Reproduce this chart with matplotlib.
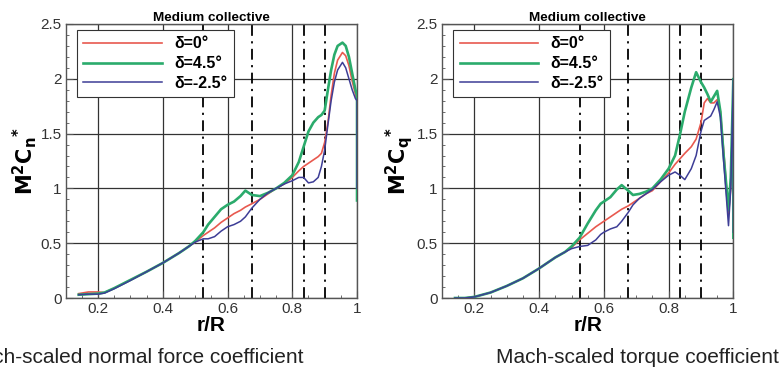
import matplotlib
matplotlib.use("Agg")
import matplotlib.pyplot as plt
from matplotlib.ticker import MultipleLocator

plt.rcParams['font.family'] = ['Liberation Sans', 'DejaVu Sans']

labels = ['δ=0°', 'δ=4.5°', 'δ=-2.5°']
colors = ['#e8594f', '#2bab6c', '#3d3d96']
widths = [1.2, 1.9, 1.1]
stations = [0.525, 0.675, 0.835, 0.9]

# normal force panel
r_cn = [0.14, 0.17, 0.2, 0.22, 0.25, 0.3, 0.35, 0.4, 0.45, 0.48, 0.5, 0.525, 0.54, 0.56,
        0.58, 0.6, 0.62, 0.64, 0.655, 0.675, 0.7, 0.725, 0.75, 0.775, 0.8, 0.82, 0.835,
        0.85, 0.865, 0.88, 0.89, 0.9, 0.91, 0.92, 0.93, 0.94, 0.955, 0.965, 0.975, 0.985,
        0.995, 1.0, 1.0]
cn_0 = [0.04, 0.055, 0.055, 0.05, 0.09, 0.165, 0.24, 0.32, 0.41, 0.47, 0.51, 0.57, 0.6,
        0.64, 0.69, 0.73, 0.77, 0.8, 0.83, 0.86, 0.9, 0.95, 1.0, 1.04, 1.1, 1.16, 1.2,
        1.23, 1.26, 1.29, 1.32, 1.42, 1.6, 1.85, 2.05, 2.17, 2.24, 2.21, 2.12, 1.98,
        1.86, 1.8, 1.2]
cn_45 = [0.03, 0.035, 0.04, 0.05, 0.09, 0.165, 0.24, 0.32, 0.41, 0.47, 0.52, 0.6, 0.67,
         0.74, 0.81, 0.85, 0.88, 0.93, 0.98, 0.94, 0.93, 0.96, 1.0, 1.05, 1.12, 1.24, 1.38,
         1.52, 1.6, 1.65, 1.67, 1.71, 1.9, 2.08, 2.22, 2.3, 2.33, 2.3, 2.2, 2.05, 1.9,
         1.85, 0.89]
cn_m25 = [0.03, 0.035, 0.035, 0.045, 0.085, 0.16, 0.24, 0.32, 0.41, 0.47, 0.51, 0.54, 0.54,
          0.56, 0.61, 0.65, 0.67, 0.7, 0.74, 0.82, 0.9, 0.96, 1.0, 1.04, 1.07, 1.1, 1.1,
          1.05, 1.06, 1.1, 1.2, 1.35, 1.58, 1.8, 1.97, 2.08, 2.15, 2.1, 2.0, 1.9, 1.82,
          1.8, 1.0]

# torque panel
r_cq = [0.14, 0.17, 0.2, 0.25, 0.3, 0.35, 0.4, 0.45, 0.48, 0.5, 0.525, 0.55, 0.575, 0.59,
        0.6, 0.62, 0.64, 0.655, 0.675, 0.69, 0.71, 0.73, 0.75, 0.775, 0.8, 0.82, 0.835,
        0.85, 0.87, 0.885, 0.9, 0.91, 0.92, 0.93, 0.94, 0.95, 0.96, 0.97, 0.985, 0.992,
        1.0, 1.0]
cq_0 = [0.0, 0.0, 0.01, 0.05, 0.11, 0.18, 0.27, 0.37, 0.42, 0.46, 0.53, 0.59, 0.65, 0.68,
        0.7, 0.74, 0.78, 0.81, 0.84, 0.87, 0.91, 0.95, 0.98, 1.06, 1.14, 1.22, 1.27, 1.32,
        1.38, 1.45, 1.6, 1.78, 1.82, 1.78, 1.78, 1.81, 1.7, 1.35, 0.77, 1.0, 1.9, 1.5]
cq_45 = [0.0, 0.0, 0.01, 0.05, 0.11, 0.18, 0.27, 0.37, 0.42, 0.47, 0.55, 0.68, 0.8, 0.86,
         0.88, 0.92, 0.99, 1.03, 0.98, 0.94, 0.95, 0.97, 1.0, 1.08, 1.18, 1.3, 1.49, 1.7,
         1.92, 2.06, 1.97, 1.92, 1.86, 1.79, 1.84, 1.89, 1.7, 1.3, 0.8, 1.1, 2.0, 0.55]
cq_m25 = [0.0, 0.0, 0.01, 0.05, 0.11, 0.18, 0.27, 0.37, 0.42, 0.45, 0.47, 0.48, 0.53, 0.58,
          0.6, 0.63, 0.65, 0.7, 0.78, 0.85, 0.91, 0.95, 0.99, 1.06, 1.12, 1.15, 1.12, 1.08,
          1.18, 1.3, 1.52, 1.62, 1.64, 1.66, 1.72, 1.79, 1.65, 1.25, 0.66, 1.0, 2.0, 0.6]

panels = [
    (r_cn, [cn_0, cn_45, cn_m25], r'$\mathbf{M^2C_n}^{\mathbf{*}}$',
     'Mach-scaled normal force coefficient', 0.3865),
    (r_cq, [cq_0, cq_45, cq_m25], r'$\mathbf{M^2C_q}^{\mathbf{*}}$',
     'Mach-scaled torque coefficient', 0.9936),
]

fig = plt.figure(figsize=(7.84, 3.79), dpi=100)
lefts = [0.0838, 0.5638]

for left, (r, series, ylab, caption, cx) in zip(lefts, panels):
    ax = fig.add_axes([left, 0.2137, 0.3716, 0.723])
    ax.set_xlim(0.1, 1.0)
    ax.set_ylim(0, 2.5)
    ax.xaxis.set_minor_locator(MultipleLocator(0.05))
    ax.yaxis.set_minor_locator(MultipleLocator(0.1))
    ax.set_xticks([0.2, 0.4, 0.6, 0.8, 1.0])
    ax.set_xticklabels(['0.2', '0.4', '0.6', '0.8', '1'])
    ax.set_yticks([0, 0.5, 1, 1.5, 2, 2.5])
    ax.set_yticklabels(['0', '0.5', '1', '1.5', '2', '2.5'])
    ax.grid(True, which='major', color='#333333', lw=0.9)
    ax.tick_params(which='both', direction='in', labelsize=11, colors='#555555',
                   labelcolor='#333333', pad=3)
    ax.tick_params(which='major', length=5)
    ax.tick_params(which='minor', length=2.5)
    for sp in ax.spines.values():
        sp.set_color('#555555')
        sp.set_linewidth(1.0)
    for s in stations:
        ax.axvline(s, color='black', lw=1.3, ls=(0, (6, 3, 1.2, 3)), zorder=2)
    for y, lab, c, w in zip(series, labels, colors, widths):
        ax.plot(r, y, color=c, lw=w, label=lab, zorder=3)
    leg = ax.legend(loc='upper left', bbox_to_anchor=(0.039, 0.978), borderaxespad=0,
                    fancybox=False, edgecolor='#333333', framealpha=1, handlelength=4.9,
                    handletextpad=0.8, borderpad=0.4, labelspacing=0.3,
                    prop={'weight': 'bold', 'size': 11.5})
    leg.get_frame().set_linewidth(0.8)
    ax.set_title('Medium collective', fontsize=9.7, fontweight='bold', pad=2)
    ax.set_xlabel('r/R', fontsize=15, fontweight='bold', labelpad=0)
    ax.set_ylabel(ylab, fontsize=15, labelpad=1)
    fig.text(cx, 0.058, caption, fontsize=15, color='#222222', ha='right', va='center')

fig.savefig('out.png', dpi=100)
